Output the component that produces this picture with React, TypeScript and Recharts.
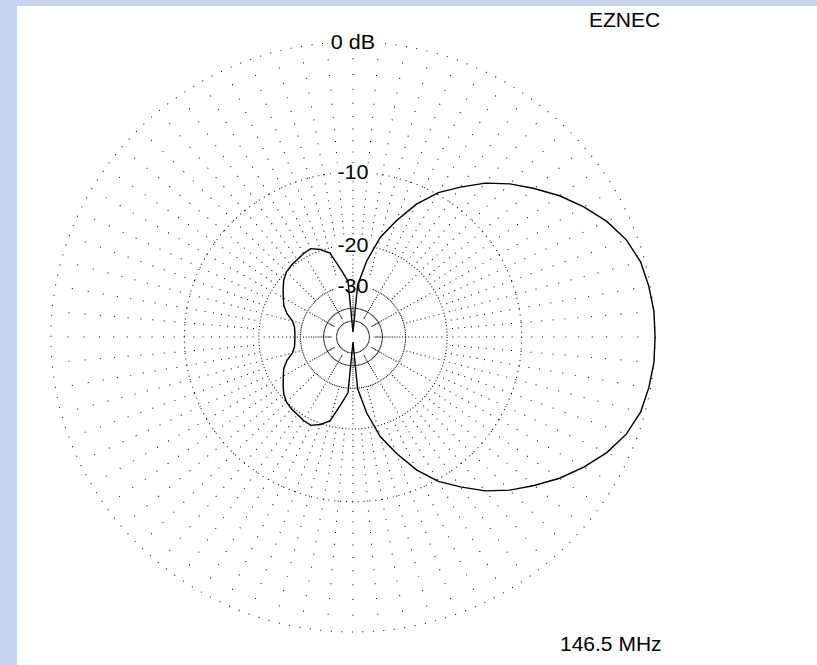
import { RadarChart, Radar, PolarGrid, PolarAngleAxis, PolarRadiusAxis } from "recharts";

// azimuth in degrees, 0 = right, counter-clockwise
const azimuths = [
  0, 5, 10, 15, 20, 25, 30, 35, 40, 45, 50, 55, 60, 65, 70, 75, 80, 85,
  90, 95, 100, 105, 110, 115, 120, 125, 130, 135, 140, 145, 150, 155, 160, 165, 170, 175,
  180, 185, 190, 195, 200, 205, 210, 215, 220, 225, 230, 235, 240, 245, 250, 255, 260, 265,
  270, 275, 280, 285, 290, 295, 300, 305, 310, 315, 320, 325, 330, 335, 340, 345, 350, 355,
];

// gain in dB relative to the maximum
const gainDb = [
  0, 0, -0.1, -0.25, -0.65, -1.3, -2.15, -3.1, -4.2, -5.3, -6.6, -8.2, -9.8, -12.0, -14.9, -18.0, -23.0, -29.8,
  -70, -28.5, -25.0, -21.0, -19.8, -19.0, -19.2, -19.5, -19.7, -20.0, -20.7, -21.7, -22.7, -23.6, -25.0, -27.0, -27.9, -28.2,
  -28.3, -28.2, -27.9, -27.0, -25.0, -23.6, -22.7, -21.7, -20.7, -20.0, -19.7, -19.5, -19.2, -19.0, -19.8, -21.0, -25.0, -28.5,
  -70, -29.8, -23.0, -18.0, -14.9, -12.0, -9.8, -8.2, -6.6, -5.3, -4.2, -3.1, -2.15, -1.3, -0.65, -0.25, -0.1, 0,
];

const ringDb = [0, -10, -20, -30, -40, -50];
const ringLabels = ["0 dB", "-10", "-20", "-30", "", ""];

const title = "EZNEC";
const freqLabel = "146.5 MHz";

const W = 817;
const H = 665;
const CX = 353;
const CY = 337;
const R = 295;
const STEP = 5; // degrees between samples
const FONT = "'Liberation Sans', Arial, sans-serif";

// ARRL log scale: each 2 dB shrinks the radius by 0.89
const arrl = (db: number) => Math.pow(0.89, -db / 2);

const data = azimuths.map((az, i) => ({ az, r: arrl(gainDb[i]) }));
const ringValues = ringDb.map(arrl);

// dots every 1 dB along a spoke, from the centre outwards
function spokeDash(fromDb: number, toDb: number) {
  const parts: number[] = [0];
  let pos = 0;
  for (let db = toDb; db <= fromDb; db++) {
    const p = arrl(db) * R;
    parts.push(Math.max(p - 0.5 - pos, 0), 1);
    pos = p + 0.5;
  }
  parts.push(2000);
  return parts.map((v) => v.toFixed(2)).join(" ");
}

// one dot every 2 degrees round a ring
function ringDash(r: number) {
  const step = (2 * Math.PI * r) / 180;
  return `1 ${Math.max(step - 1, 0.3).toFixed(3)}`;
}

function RingLabel(props: any) {
  const { x, y, payload } = props;
  const i = ringValues.findIndex((v) => Math.abs(v - payload.value) < 1e-9);
  const text = i >= 0 ? ringLabels[i] : "";
  if (!text) return <g />;
  const w = text.length * 11 + 4;
  return (
    <g>
      <rect x={x - w / 2} y={y - 9} width={w} height={18} fill="#fff" />
      <text
        x={x}
        y={y}
        textAnchor="middle"
        dominantBaseline="central"
        fontSize={21}
        fontFamily={FONT}
        fill="#000"
      >
        {text}
      </text>
    </g>
  );
}

export default function App() {
  const outerSpokes = azimuths;
  const midSpokes = azimuths.filter((a) => a % 15 === 0);
  const innerSpokes = azimuths.filter((a) => a % 30 === 0);

  return (
    <div
      style={{
        position: "fixed",
        left: 0,
        top: 0,
        width: W,
        height: H,
        background: "#c6d5ef",
        overflow: "hidden",
      }}
    >
      <div
        style={{
          position: "absolute",
          left: 17,
          top: 6,
          right: 0,
          bottom: 0,
          background: "#fff",
        }}
      />
      <div
        style={{
          position: "absolute",
          left: 0,
          top: 0,
          transform: "scaleX(1.024)",
          transformOrigin: `${CX}px ${CY}px`,
        }}
      >
        {/* radar puts each point at the far edge of its band, so start one step early */}
        <RadarChart
          width={W}
          height={H}
          data={data}
          cx={CX}
          cy={CY}
          outerRadius={R}
          startAngle={-STEP}
          endAngle={360 - STEP}
          margin={{ top: 0, right: 0, bottom: 0, left: 0 }}
        >
          {ringValues.map((v, i) => (
            <PolarGrid
              key={`ring-${i}`}
              gridType="circle"
              radialLines={false}
              polarAngles={[]}
              polarRadius={[v * R]}
              stroke="#000"
              strokeWidth={1}
              strokeDasharray={ringDash(v * R)}
            />
          ))}
          <PolarGrid
            gridType="circle"
            polarAngles={outerSpokes}
            polarRadius={[]}
            stroke="#000"
            strokeDasharray={spokeDash(-1, -19)}
          />
          <PolarGrid
            gridType="circle"
            polarAngles={midSpokes}
            polarRadius={[]}
            stroke="#000"
            strokeDasharray={spokeDash(-21, -29)}
          />
          <PolarGrid
            gridType="circle"
            polarAngles={innerSpokes}
            polarRadius={[]}
            stroke="#000"
            strokeDasharray={spokeDash(-31, -45)}
          />
          <PolarAngleAxis dataKey="az" tick={false} axisLine={false} tickLine={false} />
          <PolarRadiusAxis
            angle={90}
            type="number"
            domain={[0, 1]}
            ticks={ringValues}
            tick={RingLabel}
            axisLine={false}
            tickLine={false}
          />
          <Radar
            dataKey="r"
            stroke="#000"
            strokeWidth={1.4}
            fill="none"
            fillOpacity={0}
            dot={false}
            isAnimationActive={false}
            zIndex={700}
          />
        </RadarChart>
      </div>
      <div
        style={{
          position: "absolute",
          left: 589,
          top: 8,
          fontFamily: FONT,
          fontSize: 21,
          color: "#000",
          lineHeight: "24px",
        }}
      >
        {title}
      </div>
      <div
        style={{
          position: "absolute",
          left: 560,
          top: 632,
          fontFamily: FONT,
          fontSize: 21,
          color: "#000",
          lineHeight: "24px",
        }}
      >
        {freqLabel}
      </div>
    </div>
  );
}
